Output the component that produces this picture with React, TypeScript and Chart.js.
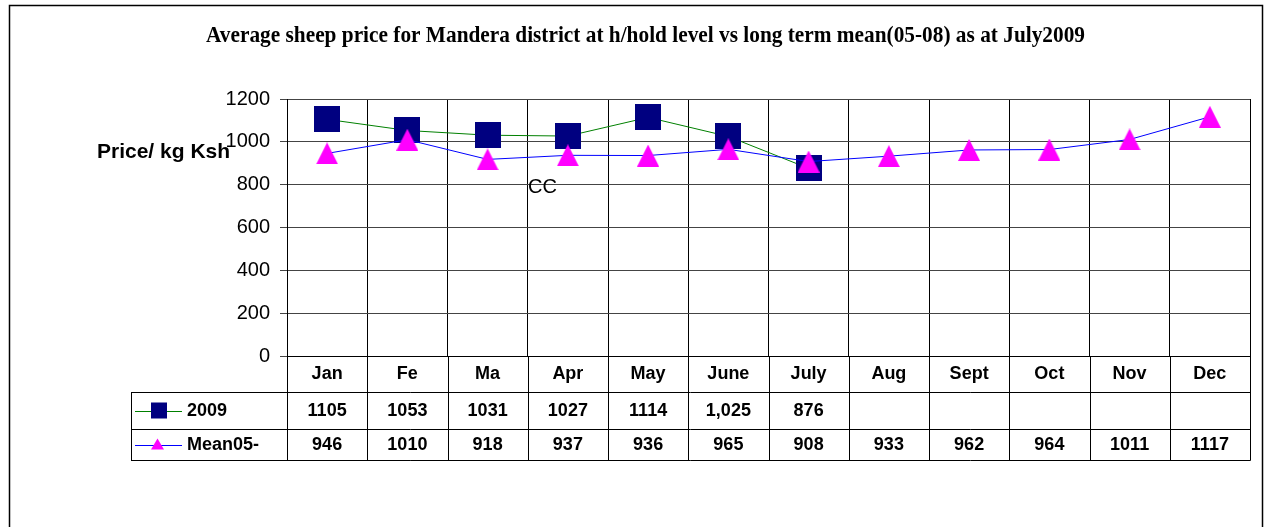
import { useEffect, useRef } from 'react';
import { Chart, registerables } from 'chart.js';

Chart.register(...registerables);

const months = ['Jan', 'Fe', 'Ma', 'Apr', 'May', 'June', 'July', 'Aug', 'Sept', 'Oct', 'Nov', 'Dec'];
const price2009: (number | null)[] = [1105, 1053, 1031, 1027, 1114, 1025, 876, null, null, null, null, null];
const price2009Text = ['1105', '1053', '1031', '1027', '1114', '1,025', '876', '', '', '', '', ''];
const meanPrice = [946, 1010, 918, 937, 936, 965, 908, 933, 962, 964, 1011, 1117];
const meanText = ['946', '1010', '918', '937', '936', '965', '908', '933', '962', '964', '1011', '1117'];
const seriesNames = ['2009', 'Mean05-'];
const yMin = 0;
const yMax = 1200;
const yStep = 200;
const titleText = 'Average sheep price for Mandera district at h/hold level vs long term mean(05-08) as at July2009';
const yAxisTitle = 'Price/ kg Ksh';
const strayText = 'CC';

const SANS = '"Liberation Sans", Arial, sans-serif';
const SERIF = '"Liberation Serif", "Times New Roman", serif';

export default function App() {
  const ref = useRef<HTMLCanvasElement>(null);

  useEffect(() => {
    const canvas = ref.current!;

    const sq = document.createElement('canvas');
    sq.width = 26;
    sq.height = 26;
    const sctx = sq.getContext('2d')!;
    sctx.fillStyle = '#000080';
    sctx.fillRect(0, 0, 26, 26);

    const tri = document.createElement('canvas');
    tri.width = 22;
    tri.height = 22;
    const tctx = tri.getContext('2d')!;
    tctx.fillStyle = '#FF00FF';
    tctx.beginPath();
    tctx.moveTo(11, 0);
    tctx.lineTo(22, 22);
    tctx.lineTo(0, 22);
    tctx.closePath();
    tctx.fill();

    const decor = {
      id: 'decor',
      afterDraw(chart: any) {
        const ctx: CanvasRenderingContext2D = chart.ctx;
        const area = chart.chartArea;
        const xs = chart.scales.x;
        const step = xs.getPixelForValue(1) - xs.getPixelForValue(0);
        const right = area.right;
        const y0 = area.bottom;
        const y1 = y0 + 36;
        const y2 = y0 + 73;
        const y3 = y0 + 104;
        const tableLeft = 131;
        const h = (v: number) => Math.round(v) + 0.5;

        ctx.save();
        // outer frame
        ctx.strokeStyle = '#000';
        ctx.lineWidth = 1.5;
        ctx.strokeRect(9.5, 5.5, 1253, 700);

        // title
        ctx.fillStyle = '#000';
        ctx.font = 'bold 23px ' + SERIF;
        ctx.textBaseline = 'alphabetic';
        ctx.textAlign = 'left';
        const tw = ctx.measureText(titleText).width;
        const targetW = 879;
        ctx.save();
        ctx.translate(206, 41.5);
        ctx.scale(targetW / tw, 1);
        ctx.fillText(titleText, 0, 0);
        ctx.restore();

        // y axis title
        ctx.font = 'bold 21px ' + SANS;
        ctx.fillText(yAxisTitle, 97, 158);

        // stray text
        ctx.font = '20px ' + SANS;
        ctx.textBaseline = 'middle';
        ctx.fillText(strayText, 528, 187);

        // table lines
        ctx.strokeStyle = '#000';
        ctx.lineWidth = 1;
        ctx.beginPath();
        ctx.moveTo(tableLeft, h(y1));
        ctx.lineTo(right, h(y1));
        ctx.moveTo(tableLeft, h(y2));
        ctx.lineTo(right, h(y2));
        ctx.moveTo(tableLeft, h(y3));
        ctx.lineTo(right + 0.5, h(y3));
        ctx.moveTo(h(tableLeft), h(y1));
        ctx.lineTo(h(tableLeft), h(y3));
        for (let i = 0; i <= months.length; i++) {
          const bx = h(xs.getPixelForValue(0) - step / 2 + i * step);
          ctx.moveTo(bx, y0);
          ctx.lineTo(bx, h(y3));
        }
        ctx.stroke();

        // table text
        ctx.font = 'bold 18px ' + SANS;
        ctx.textAlign = 'center';
        ctx.textBaseline = 'middle';
        months.forEach((m, i) => {
          const cx = xs.getPixelForValue(i);
          ctx.fillText(m, cx, (y0 + y1) / 2 + 0.5);
          ctx.fillText(price2009Text[i], cx, (y1 + y2) / 2 + 0.5);
          ctx.fillText(meanText[i], cx, (y2 + y3) / 2 + 0.5);
        });

        // legend keys
        const r1 = (y1 + y2) / 2;
        const r2 = (y2 + y3) / 2;
        ctx.lineWidth = 1;
        ctx.strokeStyle = '#008000';
        ctx.beginPath();
        ctx.moveTo(135, h(r1));
        ctx.lineTo(182, h(r1));
        ctx.stroke();
        ctx.fillStyle = '#000080';
        ctx.fillRect(151, r1 - 8, 16, 16);
        ctx.strokeStyle = '#0000FF';
        ctx.beginPath();
        ctx.moveTo(135, h(r2));
        ctx.lineTo(182, h(r2));
        ctx.stroke();
        ctx.fillStyle = '#FF00FF';
        ctx.beginPath();
        ctx.moveTo(157.5, r2 - 6);
        ctx.lineTo(164, r2 + 5);
        ctx.lineTo(151, r2 + 5);
        ctx.closePath();
        ctx.fill();

        ctx.fillStyle = '#000';
        ctx.textAlign = 'left';
        ctx.font = 'bold 18px ' + SANS;
        ctx.fillText(seriesNames[0], 187, r1 + 1);
        ctx.fillText(seriesNames[1], 187, r2 + 1);
        ctx.restore();
      },
    };

    const chart = new Chart(canvas, {
      type: 'line',
      data: {
        labels: months,
        datasets: [
          {
            label: seriesNames[1],
            data: meanPrice,
            borderColor: '#0000FF',
            borderWidth: 1,
            pointStyle: tri as any,
            pointRadius: 6,
            tension: 0,
            order: 0,
          },
          {
            label: seriesNames[0],
            data: price2009,
            borderColor: '#008000',
            borderWidth: 1,
            pointStyle: sq as any,
            pointRadius: 6,
            tension: 0,
            spanGaps: false,
            order: 1,
          },
        ],
      },
      options: {
        responsive: false,
        animation: false,
        events: [],
        layout: { padding: { top: 99, left: 0, right: 14, bottom: 171 } },
        plugins: {
          legend: { display: false },
          title: { display: false },
          tooltip: { enabled: false },
        },
        scales: {
          x: {
            type: 'category',
            offset: true,
            grid: { offset: true, color: '#000', drawTicks: false, lineWidth: 1 },
            border: { display: true, color: '#000', width: 1 },
            ticks: { display: false },
            afterFit(scale: any) {
              scale.height = 0;
            },
          },
          y: {
            min: yMin,
            max: yMax,
            ticks: {
              stepSize: yStep,
              color: '#000',
              padding: 10,
              font: { family: SANS, size: 20 },
              callback: (v: any) => String(v),
            },
            grid: { color: '#444', tickLength: 7, lineWidth: 1 },
            border: { display: true, color: '#000', width: 1 },
            afterFit(scale: any) {
              scale.width = 287;
            },
          },
        },
      },
      plugins: [decor],
    });

    return () => chart.destroy();
  }, []);

  return (
    <div style={{ position: 'fixed', left: 0, top: 0, width: 1264, height: 527, background: '#fff' }}>
      <canvas ref={ref} width={1264} height={527} style={{ display: 'block' }} />
    </div>
  );
}
